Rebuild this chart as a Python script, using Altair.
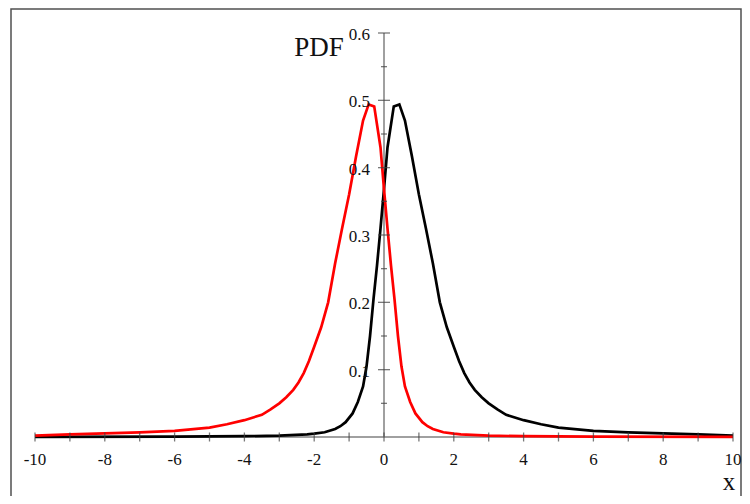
import altair as alt
import pandas as pd

# Curve values
red_x = [-10, -9, -8, -7, -6, -5, -4.5, -4, -3.5, -3.25, -3, -2.8, -2.6, -2.45, -2.3, -2.15, -2.0,
         -1.8, -1.6, -1.4, -1.2, -1.0, -0.8, -0.6, -0.44, -0.28, -0.1, 0.0, 0.1, 0.2, 0.3, 0.4,
         0.5, 0.6, 0.75, 0.9, 1.1, 1.25, 1.4, 1.7, 2.0, 2.2, 3, 4, 6, 10]
red_y = [0.002, 0.004, 0.0055, 0.007, 0.009, 0.014, 0.019, 0.025, 0.033, 0.041, 0.05, 0.059,
         0.07, 0.081, 0.095, 0.113, 0.134, 0.163, 0.2, 0.258, 0.31, 0.36, 0.417, 0.47, 0.494,
         0.491, 0.43, 0.368, 0.31, 0.255, 0.205, 0.15, 0.105, 0.075, 0.052, 0.035, 0.022, 0.016,
         0.012, 0.007, 0.005, 0.004, 0.002, 0.0012, 0.0006, 0.0003]

black_x = [10, 9, 8, 7, 6, 5, 4.5, 4, 3.5, 3.25, 3, 2.8, 2.6, 2.45, 2.3, 2.15, 2.0,
           1.8, 1.6, 1.4, 1.2, 1.0, 0.8, 0.6, 0.44, 0.28, 0.1, 0.0, -0.1, -0.2, -0.3, -0.4,
           -0.5, -0.6, -0.75, -0.9, -1.1, -1.25, -1.4, -1.7, -2.0, -2.2, -3, -4, -6, -10]
black_y = [0.002, 0.004, 0.0055, 0.007, 0.009, 0.014, 0.019, 0.025, 0.033, 0.041, 0.05, 0.059,
           0.07, 0.081, 0.095, 0.113, 0.134, 0.163, 0.2, 0.258, 0.31, 0.36, 0.417, 0.47, 0.494,
           0.491, 0.43, 0.368, 0.31, 0.255, 0.205, 0.15, 0.105, 0.075, 0.052, 0.035, 0.022, 0.016,
           0.012, 0.007, 0.005, 0.004, 0.002, 0.0012, 0.0006, 0.0003]

x_major = [-10, -8, -6, -4, -2, 0, 2, 4, 6, 8, 10]
x_major_labels = ["-10", "-8", "-6", "-4", "-2", "0", "2", "4", "6", "8", "10"]
x_minor = [-9, -7, -5, -3, -1, 1, 3, 5, 7, 9]
y_major = [0.1, 0.2, 0.3, 0.4, 0.5, 0.6]
y_major_labels = ["0.1", "0.2", "0.3", "0.4", "0.5", "0.6"]
y_minor = [0.05, 0.15, 0.25, 0.35, 0.45, 0.55]

xs = alt.Scale(domain=[-10, 10], nice=False, zero=False)
ys = alt.Scale(domain=[0, 0.6], nice=False, zero=False)

def X(f="x"):
    return alt.X(f"{f}:Q", scale=xs, axis=None)

def Y(f="y"):
    return alt.Y(f"{f}:Q", scale=ys, axis=None)

AXIS_GRAY = "#808080"
TICK = "#404040"
FONT = "Liberation Serif"
TXT = "#111111"

frame = alt.Chart(pd.DataFrame({"a": [0]})).mark_rect(
    filled=False, stroke="#505050", strokeWidth=1.5
).encode(x=alt.value(-24), x2=alt.value(706), y=alt.value(-24), y2=alt.value(520))

xaxis_df = pd.DataFrame({"x": [-10], "x2": [10], "y": [0]})
xaxis = alt.Chart(xaxis_df).mark_rule(color=AXIS_GRAY, strokeWidth=1.5).encode(
    x=X(), x2="x2:Q", y=Y())
yaxis_df = pd.DataFrame({"x": [0], "y": [0], "y2": [0.6]})
yaxis = alt.Chart(yaxis_df).mark_rule(color=AXIS_GRAY, strokeWidth=1.5).encode(
    x=X(), y=Y(), y2="y2:Q")

xt_major = alt.Chart(pd.DataFrame({"x": x_major, "y": [0] * len(x_major)})).mark_tick(
    orient="vertical", size=9, thickness=1.3, color=TICK).encode(x=X(), y=Y())
xt_minor = alt.Chart(pd.DataFrame({"x": x_minor, "y": [0] * len(x_minor)})).mark_tick(
    orient="vertical", size=9, thickness=1.3, color=TICK).encode(x=X(), y=Y())
yt_major = alt.Chart(pd.DataFrame({"x": [0] * len(y_major), "y": y_major})).mark_tick(
    orient="horizontal", size=12, thickness=1.3, color=TICK).encode(x=X(), y=Y())
yt_minor = alt.Chart(pd.DataFrame({"x": [0] * len(y_minor), "y": y_minor})).mark_tick(
    orient="horizontal", size=6, thickness=1.3, color=TICK).encode(x=X(), y=Y())

xlab = alt.Chart(pd.DataFrame({"x": x_major, "y": [0] * len(x_major), "t": x_major_labels})).mark_text(
    font=FONT, fontSize=17, color=TXT, baseline="middle", align="center", dy=23
).encode(x=X(), y=Y(), text="t:N")
ylab = alt.Chart(pd.DataFrame({"x": [0] * len(y_major), "y": y_major, "t": y_major_labels})).mark_text(
    font=FONT, fontSize=17, color=TXT, baseline="middle", align="right", dx=-14, dy=2
).encode(x=X(), y=Y(), text="t:N")

black = alt.Chart(pd.DataFrame({"x": black_x, "y": black_y, "o": list(range(len(black_x)))})).mark_line(
    color="#000000", strokeWidth=2.7).encode(x=X(), y=Y(), order="o:Q")
red = alt.Chart(pd.DataFrame({"x": red_x, "y": red_y, "o": list(range(len(red_x)))})).mark_line(
    color="#ff0000", strokeWidth=2.7).encode(x=X(), y=Y(), order="o:Q")

pdf_title = alt.Chart(pd.DataFrame({"a": [0]})).mark_text(
    font=FONT, fontSize=27, color=TXT, baseline="middle", align="center", text="PDF"
).encode(x=alt.value(284), y=alt.value(15))
x_title = alt.Chart(pd.DataFrame({"a": [0]})).mark_text(
    font=FONT, fontSize=25, color=TXT, baseline="middle", align="center", text="x"
).encode(x=alt.value(694), y=alt.value(449))

chart = alt.layer(
    frame, xaxis, yaxis, black, red, xt_major, xt_minor, yt_major, yt_minor,
    xlab, ylab, pdf_title, x_title
).properties(
    width=698, height=404,
    background="white",
    autosize=alt.AutoSizeParams(type="none"),
    padding={"left": 27, "top": 25, "right": 9, "bottom": 59},
).configure_view(strokeWidth=0, stroke="transparent")

chart.save("out.html", embed_options={"renderer": "svg", "actions": False})
